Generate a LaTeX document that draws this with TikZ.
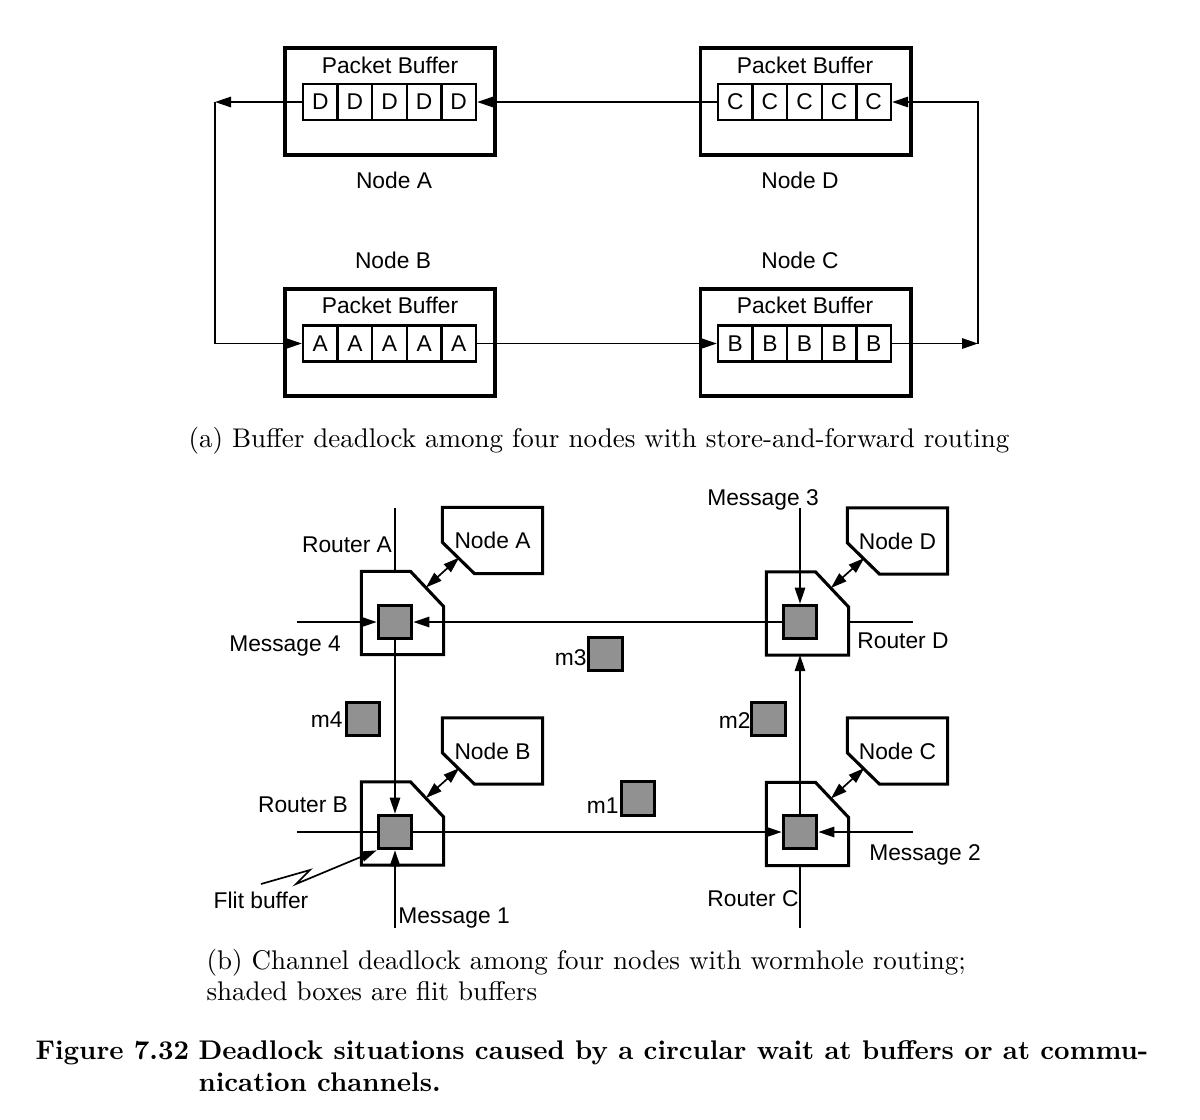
\documentclass[tikz,border=0pt]{standalone}
\usepackage{fontspec}
\usepackage{xcolor}
\usepackage{tikz}
\usetikzlibrary{shapes,arrows.meta,positioning}
\newfontfamily\helv{Liberation Sans}
\definecolor{flitgray}{RGB}{145,145,145}

\begin{document}
\begin{tikzpicture}[x=0.0125cm, y=-0.0125cm, node distance=0.2cm,
  font=\helv\fontsize{8.1}{9.7}\selectfont,
  >={Triangle[length=2mm,width=1.3mm]},
  wire/.style={line width=0.6pt},
  outline/.style={line width=1.1pt, line join=miter},
  pbuf/.style={draw, rectangle, line width=1.4pt, minimum width=2.625cm, minimum height=1.34cm},
  pcell/.style={draw, rectangle, line width=0.8pt, minimum width=0.4325cm, minimum height=0.45cm, inner sep=0pt},
  router/.style={rectangle, minimum width=1.0125cm, minimum height=1.025cm, inner sep=0pt},
  proc/.style={rectangle, minimum width=1.2375cm, minimum height=0.8125cm, inner sep=0pt},
  flit/.style={draw, rectangle, fill=flitgray, line width=1.1pt, minimum size=0.42cm, inner sep=0pt},
  lab/.style={anchor=base, inner sep=0pt},
  capt/.style={anchor=base west, inner sep=0pt, font=\rmfamily\fontsize{9.6}{11.4}\selectfont}]
  \useasboundingbox (0,0) rectangle (1200,1119);

  % (a) store-and-forward
  \node[pbuf] (bufA) at (390,101.5) {};
  \node[pbuf] (bufD) at (805.5,101.5) {};
  \node[pbuf] (bufB) at (390,342.5) {};
  \node[pbuf] (bufC) at (805.5,342.5) {};
  \node[lab] (titA) at (390,73) {Packet Buffer};
  \node[lab] (titD) at (805,73) {Packet Buffer};
  \node[lab] (titB) at (390,313) {Packet Buffer};
  \node[lab] (titC) at (805,313) {Packet Buffer};
  \foreach \k in {1,...,5} {
    \node[pcell] (cellA\k) at ({320.3+34.6*(\k-1)},102) {D};
    \node[pcell] (cellD\k) at ({735.3+34.6*(\k-1)},102) {C};
    \node[pcell] (cellB\k) at ({320.3+34.6*(\k-1)},343.5) {A};
    \node[pcell] (cellC\k) at ({735.3+34.6*(\k-1)},343.5) {B};
  }
  \node[lab] (nameA) at (394,188) {Node A};
  \node[lab] (nameD) at (800,188) {Node D};
  \node[lab] (nameB) at (393,268) {Node B};
  \node[lab] (nameC) at (800,268) {Node C};

  \coordinate (turnAB) at (215,102);
  \coordinate (turnCD) at (978,343.5);
  \draw[wire,->] (cellD1) -- (cellA5);
  \draw[wire,->] (cellA1) -- (turnAB);
  \draw[wire,->] (turnAB) |- (cellB1);
  \draw[wire,->] (cellB5) -- (cellC1);
  \draw[wire,->] (cellC5) -- (turnCD);
  \draw[wire,->] (turnCD) |- (cellD5);

  \node[capt, anchor=base] (capa) at (599,447) {(a) Buffer deadlock among four nodes with store-and-forward routing};

  % (b) wormhole
  \node[router] (routerA) at (402.5,613) {};
  \node[router] (routerB) at (402.5,823.5) {};
  \node[router] (routerC) at (807.5,824) {};
  \node[router] (routerD) at (807.5,613.5) {};
  \node[proc] (procA) at (492.5,540.5) {Node A};
  \node[proc] (procB) at (492.5,751) {Node B};
  \node[proc] (procC) at (897.5,751) {Node C};
  \node[proc] (procD) at (897.5,541) {Node D};
  \foreach \r in {A,B,C,D} {
    \draw[outline] (router\r.north west) -- ([xshift=-0.4125cm]router\r.north east)
      -- ([yshift=-0.4375cm]router\r.north east) -- (router\r.south east)
      -- (router\r.south west) -- cycle;
    \draw[outline] (proc\r.north west) -- (proc\r.north east) -- (proc\r.south east)
      -- ([xshift=0.4cm]proc\r.south west) -- ([yshift=0.39cm]proc\r.south west) -- cycle;
    \draw[wire,<->] ([xshift=-0.22cm,yshift=-0.2cm]router\r.north east)
      -- ([xshift=0.21cm,yshift=0.2cm]proc\r.south west);
  }

  \node[flit] (flitA) at (395,622) {};
  \node[flit] (flitB) at (395,832) {};
  \node[flit] (flitC) at (800,832) {};
  \node[flit] (flitD) at (800,622) {};

  \coordinate (inA) at (395,508);
  \coordinate (msg4) at (297,622);
  \coordinate (msg3) at (800,508);
  \coordinate (outD) at (913,622);
  \coordinate (inB) at (297,832);
  \coordinate (msg1) at (395,928);
  \coordinate (msg2) at (913,832);
  \coordinate (outC) at (800,928);
  \draw[wire] (inA) -- (routerA.north -| flitA);
  \draw[wire,->] (msg4) -- (flitA);
  \draw[wire,->] (flitD) -- (flitA);
  \draw[wire,->] (flitA) -- (flitB);
  \draw[wire,->] (msg3) -- (flitD);
  \draw[wire] (routerD.east |- flitD) -- (outD);
  \draw[wire,->] (flitC) -- (routerD.south -| flitD);
  \draw[wire] (inB) -- (flitB);
  \draw[wire,->] (msg1) -- (flitB);
  \draw[wire,->] (flitB) -- (flitC);
  \draw[wire,->] (msg2) -- (flitC);
  \draw[wire] (routerC.south -| flitC) -- (outC);

  \node[lab] (rlabA) at (347,552) {Router A};
  \node[lab] (rlabB) at (303,812) {Router B};
  \node[lab] (rlabC) at (753,906) {Router C};
  \node[lab] (rlabD) at (903,648) {Router D};
  \node[lab] (mlab4) at (285,651) {Message 4};
  \node[lab] (mlab3) at (763,505) {Message 3};
  \node[lab] (mlab1) at (454,923) {Message 1};
  \node[lab] (mlab2) at (925,860) {Message 2};

  \node[flit] (m4) at (363,719) {};
  \node[flit] (m3) at (605.5,654) {};
  \node[flit] (m1) at (638,798.5) {};
  \node[flit] (m2) at (768.5,719) {};
  \node[lab, anchor=base east] (labm4) at (343,727) {m4};
  \node[lab, anchor=base east] (labm3) at (587,665) {m3};
  \node[lab, anchor=base east] (labm1) at (619,813) {m1};
  \node[lab, anchor=base east] (labm2) at (751,728) {m2};

  \node[lab] (flitlab) at (261,908) {Flit buffer};
  \draw[wire,->] ([yshift=0.3cm]flitlab.base) -- ++(49,-14) -- ++(-14,14) -- (flitB.south west);

  \node[capt] (capb1) at (206,969) {(b) Channel deadlock among four nodes with wormhole routing;};
  \node[capt] (capb2) at (206,1000) {shaded boxes are flit buffers};

  \node[capt, font=\rmfamily\bfseries\fontsize{9.6}{11.4}\selectfont] (figlab) at (35,1059) {Figure 7.32};
  \node[capt, font=\rmfamily\bfseries\fontsize{9.6}{11.4}\selectfont] (figtxt1) at (198,1059) {Deadlock situations caused by a circular wait at buffers or at commu-};
  \node[capt, font=\rmfamily\bfseries\fontsize{9.6}{11.4}\selectfont] (figtxt2) at (198,1091) {nication channels.};
\end{tikzpicture}
\end{document}
